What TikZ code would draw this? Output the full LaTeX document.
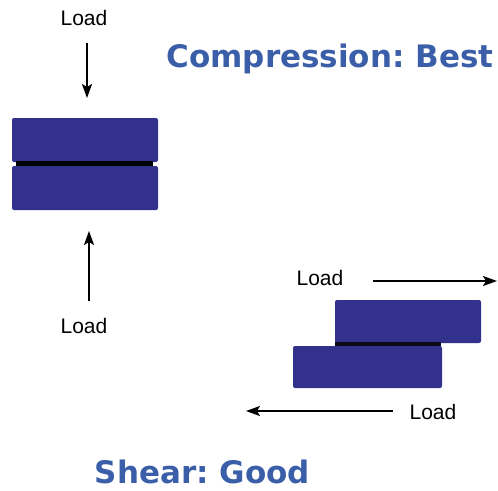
\documentclass[tikz,border=0pt]{standalone}
\usepackage{fontspec}
\setmainfont{Liberation Sans}
\newfontfamily\titlefont{DejaVu Sans}
\usepackage{xcolor}
\usetikzlibrary{arrows.meta}
\definecolor{padblue}{RGB}{50,50,140}
\definecolor{titleblue}{RGB}{58,95,168}
\frenchspacing

\begin{document}
\begin{tikzpicture}[x=1pt,y=-1pt,>={Stealth[length=14pt,width=10pt,inset=3pt]},line width=1.8pt,
  pad/.style={fill=padblue,draw=none,rounded corners=2pt},
  seam/.style={fill=black,draw=none},
  load label/.style={font=\fontsize{21}{21}\selectfont,inner sep=0pt},
  title/.style={font=\titlefont\bfseries\fontsize{31}{31}\selectfont,text=titleblue,inner sep=0pt,anchor=base},
  loadarrow/.style={->,black,line width=1.8pt}]
  \useasboundingbox (0,0) rectangle (498,490);

  % compression pads
  \fill[pad] (12,118) rectangle (158,162);
  \fill[seam] (16,161) rectangle (153,166);
  \fill[pad] (12,166) rectangle (158,210);
  \node[load label] (loadtop) at (84,18) {Load};
  \node[load label] (loadbot) at (84,326) {Load};
  \coordinate (t1) at (87,43);
  \coordinate (t2) at (87,98);
  \coordinate (b1) at (89,301);
  \coordinate (b2) at (89,231);
  \path (t1) edge[loadarrow] (t2)
        (b1) edge[loadarrow] (b2);
  \node[title] (comp) at (330,67) {Compression: Best};

  % shear pads
  \fill[pad] (335,300) rectangle (481,343);
  \fill[black!80!padblue] (335,342) rectangle (441,346);
  \fill[pad] (293,346) rectangle (442,388);
  \node[load label] (loadright) at (320,278) {Load};
  \node[load label] (loadleft) at (433,412) {Load};
  \coordinate (r1) at (373,281);
  \coordinate (r2) at (497,281);
  \coordinate (l1) at (393,411);
  \coordinate (l2) at (246,411);
  \path (r1) edge[loadarrow] (r2)
        (l1) edge[loadarrow] (l2);
  \node[title] (shear) at (202.5,483) {Shear: Good};
\end{tikzpicture}
\end{document}
